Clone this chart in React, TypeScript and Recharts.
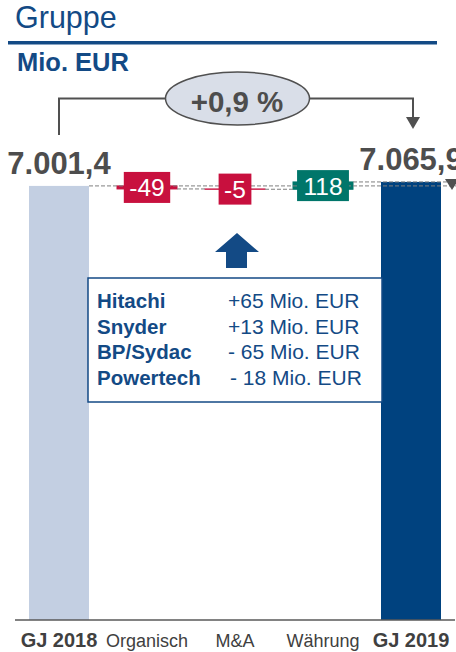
import React from 'react';
import { ComposedChart, Bar, XAxis, YAxis, LabelList } from 'recharts';

// ---------- data ----------
const CATEGORIES = ['GJ 2018', 'Organisch', 'M&A', 'Währung', 'GJ 2019'];
const VALUES = [7001.4, -49, -5, 118, 7065.9];
const KINDS = ['total', 'delta', 'delta', 'delta', 'total'];
const CHANGE_LABEL = '+0,9 %';
const INFO_NAMES = ['Hitachi', 'Snyder', 'BP/Sydac', 'Powertech'];
const INFO_VALUES = ['+65 Mio. EUR', '+13 Mio. EUR', '- 65 Mio. EUR', '- 18 Mio. EUR'];
const Y_DOMAIN: [number, number] = [0, 8000];

// ---------- style ----------
const W = 456;
const H = 652;
const MARGIN = { top: 124, right: 1, bottom: 2, left: 15 };
const BAR_SIZE = 60;
const BAND = (W - MARGIN.left - MARGIN.right) / CATEGORIES.length;
const FONT = '"Liberation Sans", Arial, Helvetica, sans-serif';
const BLUE = '#134a85';
const GRAY_TEXT = '#4d4d4d';
const COLORS: Record<string, string> = {
  'GJ 2018': '#c3cfe2',
  'GJ 2019': '#00427f',
  neg: '#c8103e',
  pos: '#00766a',
};

type Row = { name: string; range: [number, number]; value: number; kind: string; endTop: boolean; fill: string };

const rows: Row[] = (() => {
  let running = 0;
  return CATEGORIES.map((name, i) => {
    const v = VALUES[i];
    const kind = KINDS[i];
    if (kind === 'total') {
      running = v;
      return { name, range: [0, v] as [number, number], value: v, kind, endTop: true, fill: COLORS[name] };
    }
    const start = running;
    running += v;
    return {
      name,
      range: [Math.min(start, running), Math.max(start, running)] as [number, number],
      value: v,
      kind,
      endTop: v >= 0,
      fill: v < 0 ? COLORS.neg : COLORS.pos,
    };
  });
})();

function fmtDE(v: number): string {
  const [i, d] = Math.abs(v).toFixed(1).split('.');
  const int = i.replace(/\B(?=(\d{3})+(?!\d))/g, '.');
  return (v < 0 ? '-' : '') + int + ',' + d;
}
function fmtDelta(v: number): string {
  return (v < 0 ? '-' : '') + String(Math.abs(v));
}
function textWidth(s: string, size: number): number {
  let w = 0;
  for (const ch of s) w += ch === '-' ? 0.333 : 0.556;
  return w * size;
}

const DASH = { stroke: '#7f7f7f', strokeWidth: 1, strokeDasharray: '4 2' };

const BarShape = (props: any) => {
  const { x, y, width, height, payload } = props;
  const r: Row = payload;
  const isDelta = r.kind === 'delta';
  return (
    <rect
      x={x}
      y={y}
      width={width}
      height={Math.max(Number(height), 0)}
      fill={r.fill}
      stroke={isDelta ? r.fill : 'none'}
      strokeWidth={isDelta ? 1 : 0}
    />
  );
};

const renderLabel = (props: any) => {
  const idx: number = props.index;
  const row = rows[idx];
  if (!row) return null;
  const vb = props.viewBox || props;
  const x = Number(vb.x);
  let y = Number(vb.y);
  const w = Number(vb.width);
  let h = Number(vb.height);
  if (h < 0) {
    y = y + h;
    h = -h;
  }
  const cx = x + w / 2;
  const endY = row.endTop ? y : y + h;
  const gap = BAND - w;
  const parts: React.ReactNode[] = [];
  if (idx < rows.length - 1) {
    const x2 = idx === 0 || idx === 3 ? W : x + w + gap;
    parts.push(<line key="c" x1={x + w} y1={endY} x2={x2} y2={endY} {...DASH} />);
  }
  if (row.kind === 'total') {
    parts.push(
      <text key="t" x={cx} y={y - 12} textAnchor="middle" fontFamily={FONT} fontWeight={700} fontSize={31} fill={GRAY_TEXT}>
        {fmtDE(row.value)}
      </text>
    );
  } else {
    const label = fmtDelta(row.value);
    const bw = textWidth(label, 24.5) + 11;
    const bh = 31;
    const cy = y + h / 2;
    parts.push(<rect key="r" x={cx - bw / 2} y={cy - bh / 2} width={bw} height={bh} fill={row.fill} />);
    parts.push(
      <text key="t" x={cx} y={cy + 9} textAnchor="middle" fontFamily={FONT} fontSize={24.5} fill="#ffffff">
        {label}
      </text>
    );
  }
  return <g>{parts}</g>;
};

const Tick = (props: any) => {
  const { x, y, payload } = props;
  const bold = String(payload.value).startsWith('GJ');
  return (
    <text x={x} y={y + 19} textAnchor="middle" fontFamily={FONT} fontSize={bold ? 20 : 18} fontWeight={bold ? 700 : 400} fill="#404040">
      {payload.value}
    </text>
  );
};

export default function App() {
  return (
    <div style={{ position: 'absolute', left: 0, top: 0, width: W, height: H, background: '#fff', overflow: 'hidden', fontFamily: FONT }}>
      <div style={{ position: 'absolute', left: 0, top: 0 }}>
        <ComposedChart width={W} height={H} data={rows} margin={MARGIN}>
          <XAxis dataKey="name" interval={0} tickLine={false} axisLine={{ stroke: '#595959', strokeWidth: 1.5 }} height={30} tick={<Tick />} />
          <YAxis hide domain={Y_DOMAIN} />
          <Bar dataKey="range" isAnimationActive={false} barSize={BAR_SIZE} shape={<BarShape />}>
            <LabelList dataKey="value" content={renderLabel} />
          </Bar>
        </ComposedChart>
      </div>
      <svg width={W} height={H} style={{ position: 'absolute', left: 0, top: 0, pointerEvents: 'none' }}>
        <text x={15} y={28} fontFamily={FONT} fontSize={30.5} fill={BLUE}>Gruppe</text>
        <rect x={8} y={41} width={429} height={3.5} fill={BLUE} />
        <text x={17} y={71} fontFamily={FONT} fontSize={25.5} fontWeight={700} fill={BLUE}>Mio. EUR</text>
        <polyline points="59,135 59,98.5 166,98.5" fill="none" stroke="#505050" strokeWidth={2} />
        <polyline points="309,98.5 413,98.5 413,118" fill="none" stroke="#505050" strokeWidth={2} />
        <polygon points="406,117 420,117 413,129" fill="#505050" />
        <ellipse cx={237.5} cy={98.5} rx={72} ry={26.5} fill="#d9dee8" stroke="#505050" strokeWidth={1.5} />
        <text x={237} y={112} textAnchor="middle" fontFamily={FONT} fontSize={29.5} fontWeight={700} fill={GRAY_TEXT}>{CHANGE_LABEL}</text>
        <polygon points="445,179 459,179 452,190" fill="#505050" />
        <polygon points="237,233 259,252 247,252 247,268 226,268 226,252 215,252" fill={BLUE} />
        <rect x={88} y={278} width={294} height={124} fill="#fff" stroke={BLUE} strokeWidth={1.5} />
        {INFO_NAMES.map((n, i) => (
          <text key={n} x={97} y={308 + i * 25.7} fontFamily={FONT} fontSize={20.5} fontWeight={700} fill={BLUE}>{n}</text>
        ))}
        {INFO_VALUES.map((v, i) => (
          <text key={v + i} x={i === 3 ? 230 : 228} y={308 + i * 25.7} fontFamily={FONT} fontSize={21} fill={BLUE}>{v}</text>
        ))}
      </svg>
    </div>
  );
}
